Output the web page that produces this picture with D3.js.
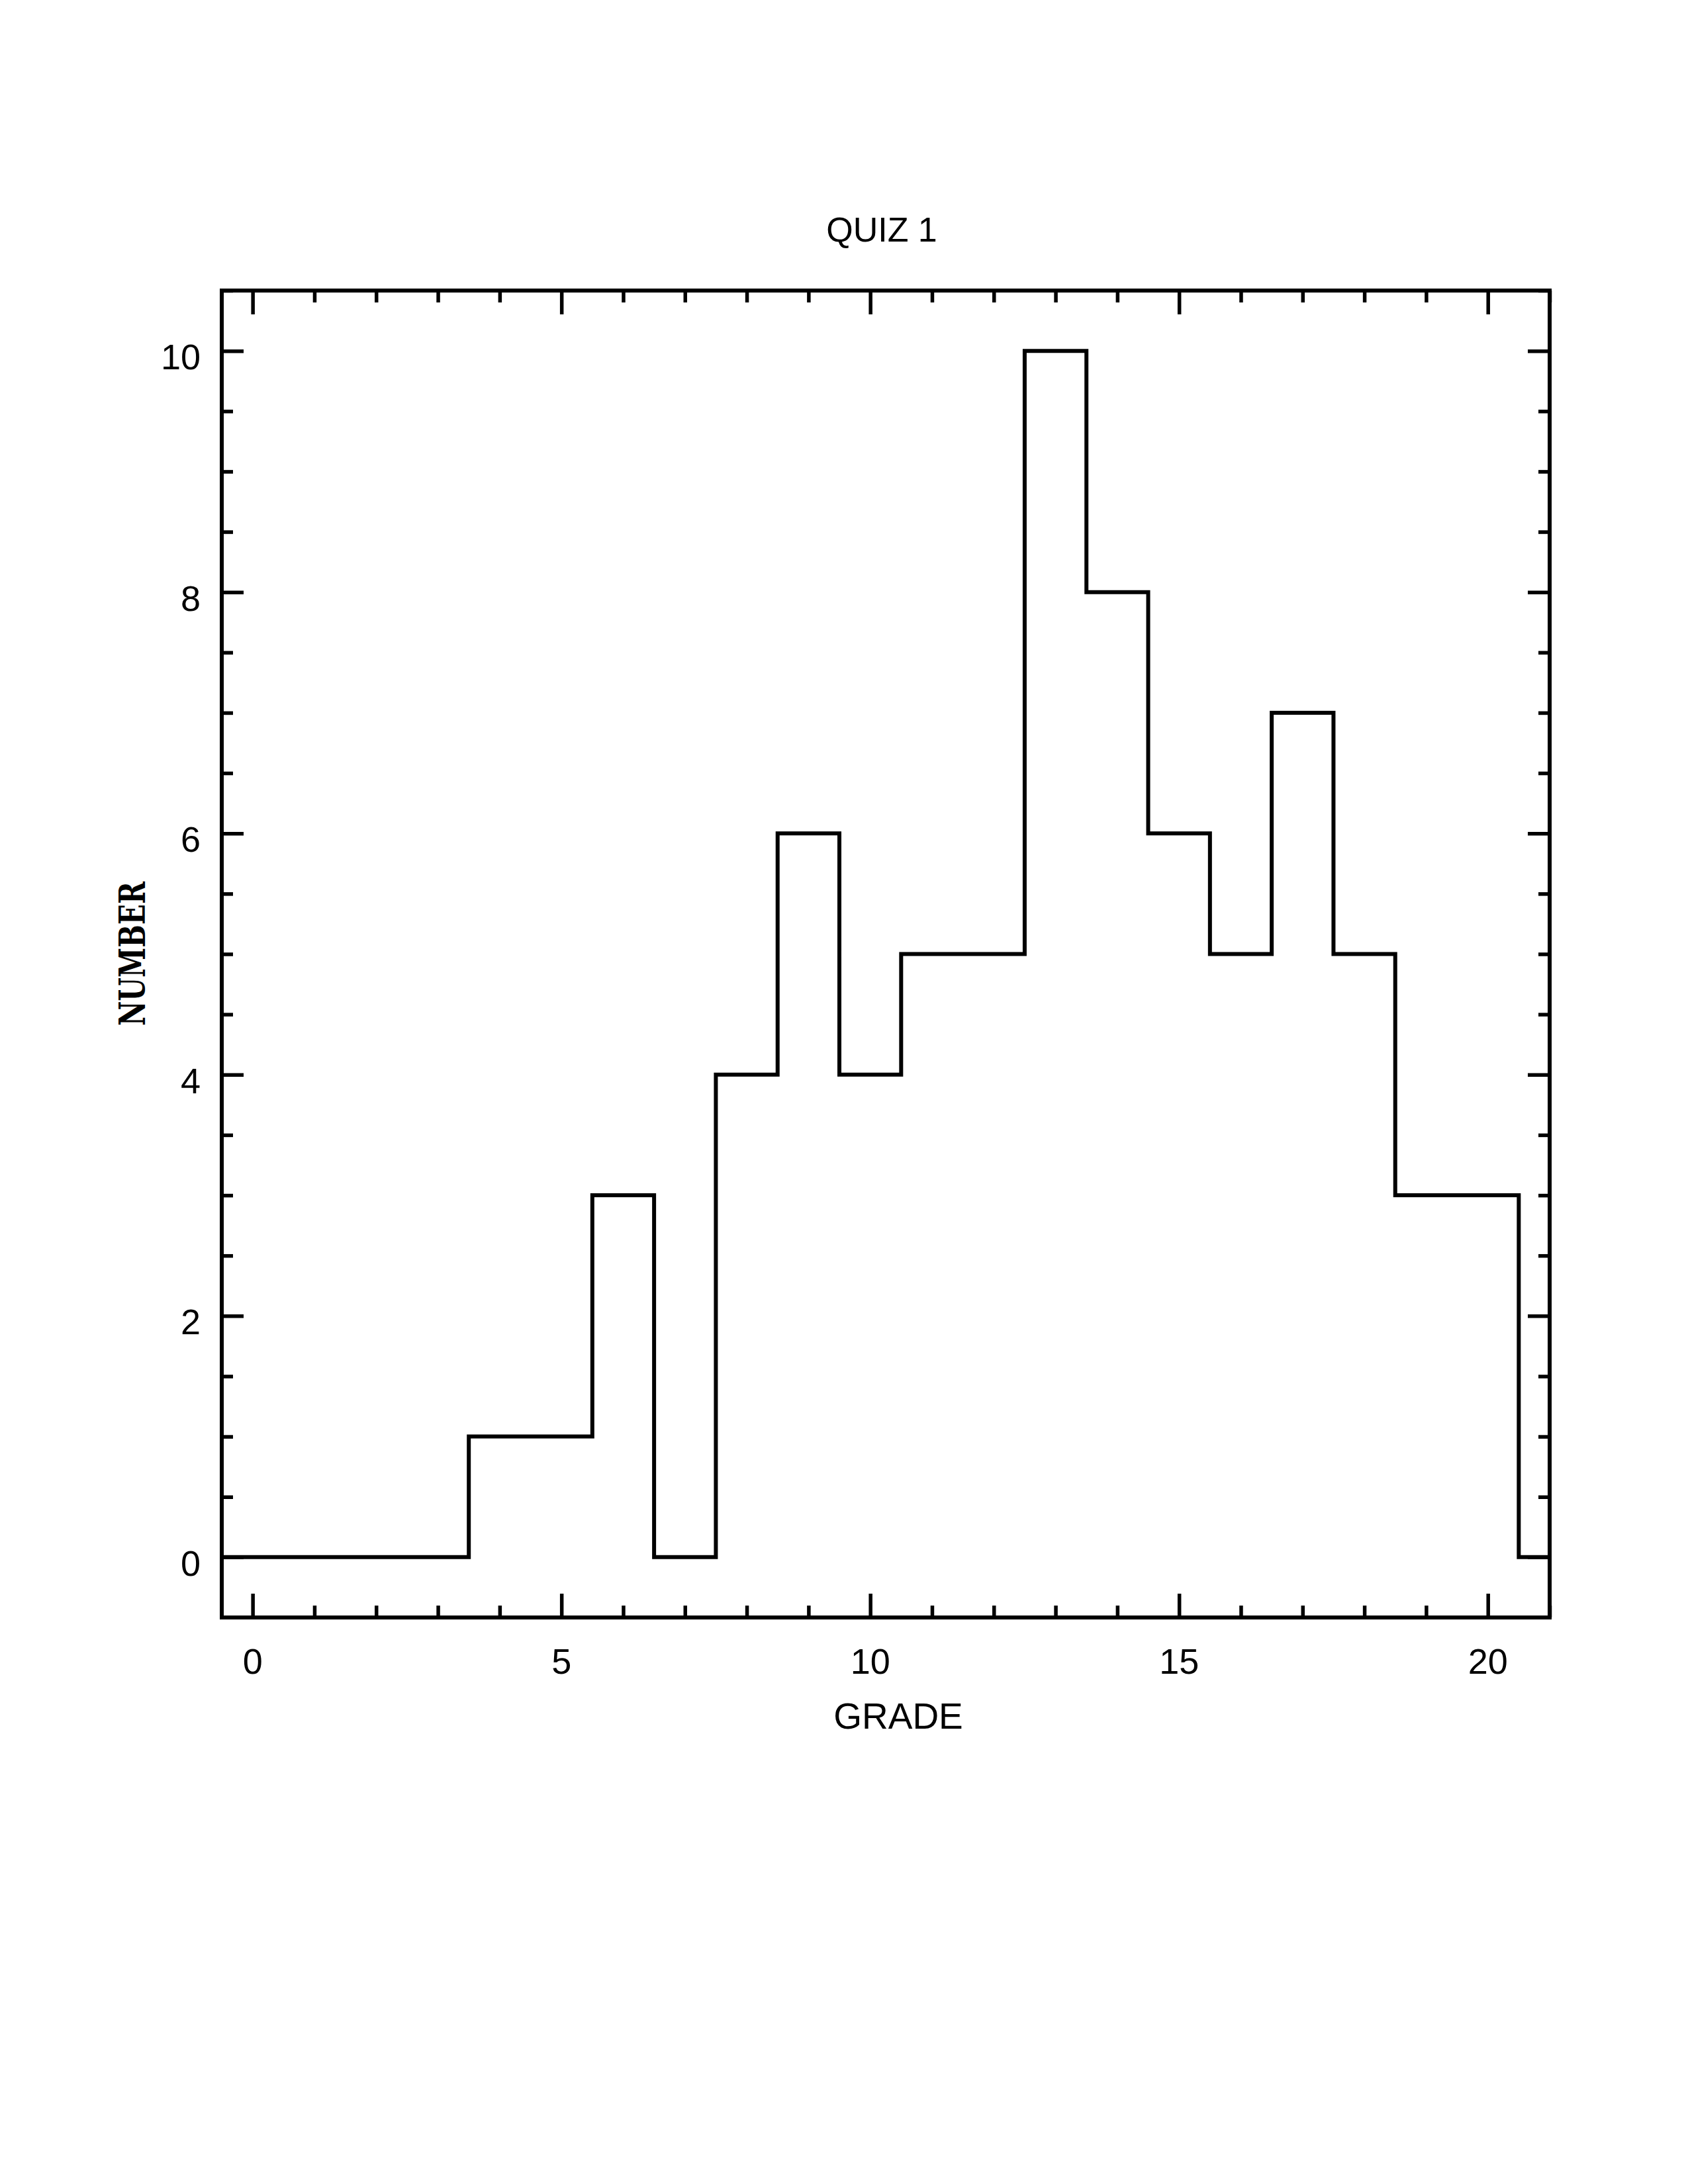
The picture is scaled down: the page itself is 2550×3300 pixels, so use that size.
<!DOCTYPE html>
<html>
<head>
<meta charset="utf-8">
<script src="https://cdn.jsdelivr.net/npm/d3@7"></script>
<style>
html,body{margin:0;padding:0;background:#fff;}
</style>
</head>
<body>
<script>
const grades = [0,1,2,3,4,5,6,7,8,9,10,11,12,13,14,15,16,17,18,19,20,21];
const counts = [0,0,0,0,1,1,3,0,4,6,4,5,5,10,8,6,5,7,5,3,3,0];
const xMajorTicks = [0,5,10,15,20];
const yMajorTicks = [0,2,4,6,8,10];
const titleText = "QUIZ 1";
const xLabel = "GRADE";
const yLabel = "NUMBER";

const W = 2550, H = 3300;
const svg = d3.select("body").append("svg").attr("width", W).attr("height", H)
  .style("background", "#fff");

const L = 335, R = 2341, T = 439, B = 2444;
const x = d3.scaleLinear().domain([-0.5, 21]).range([L, R]);
const y = d3.scaleLinear().domain([-0.5, 10.5]).range([B, T]);

const xMinor = d3.range(0, 22, 1).filter(v => !xMajorTicks.includes(v));
const yMinor = d3.range(0, 10.51, 0.5).filter(v => !yMajorTicks.includes(v));

const lw = 6;
function styleAxis(g) {
  g.select(".domain").remove();
  g.selectAll("line").attr("stroke", "#000").attr("stroke-width", lw - 0.5);
  g.selectAll("text").remove();
}
// bottom
svg.append("g").attr("transform", `translate(0,${B})`).call(d3.axisBottom(x).tickValues(xMajorTicks).tickSize(-36)).call(styleAxis);
svg.append("g").attr("transform", `translate(0,${B})`).call(d3.axisBottom(x).tickValues(xMinor).tickSize(-18)).call(styleAxis);
// top
svg.append("g").attr("transform", `translate(0,${T})`).call(d3.axisTop(x).tickValues(xMajorTicks).tickSize(-36)).call(styleAxis);
svg.append("g").attr("transform", `translate(0,${T})`).call(d3.axisTop(x).tickValues(xMinor).tickSize(-18)).call(styleAxis);
// left
svg.append("g").attr("transform", `translate(${L},0)`).call(d3.axisLeft(y).tickValues(yMajorTicks).tickSize(-33)).call(styleAxis);
svg.append("g").attr("transform", `translate(${L},0)`).call(d3.axisLeft(y).tickValues(yMinor).tickSize(-17)).call(styleAxis);
// right
svg.append("g").attr("transform", `translate(${R},0)`).call(d3.axisRight(y).tickValues(yMajorTicks).tickSize(-33)).call(styleAxis);
svg.append("g").attr("transform", `translate(${R},0)`).call(d3.axisRight(y).tickValues(yMinor).tickSize(-17)).call(styleAxis);

// frame
svg.append("rect").attr("x", L).attr("y", T).attr("width", R - L).attr("height", B - T)
  .attr("fill", "none").attr("stroke", "#000").attr("stroke-width", lw);

// histogram
svg.append("clipPath").attr("id", "clip").append("rect")
  .attr("x", L).attr("y", T).attr("width", R - L).attr("height", B - T);
const pts = grades.map((g, i) => [g - 0.5, counts[i]]);
pts.push([grades[grades.length - 1] + 0.5, counts[counts.length - 1]]);
const line = d3.line().x(d => x(d[0])).y(d => y(d[1])).curve(d3.curveStepAfter);
svg.append("path").attr("d", line(pts)).attr("clip-path", "url(#clip)")
  .attr("fill", "none").attr("stroke", "#000").attr("stroke-width", lw)
  .attr("stroke-linejoin", "miter").attr("stroke-linecap", "square");

const font = "'Liberation Sans', Arial, Helvetica, sans-serif";
// tick labels
svg.append("g").selectAll("text").data(xMajorTicks).join("text")
  .attr("x", d => x(d)).attr("y", 2529).attr("text-anchor", "middle")
  .attr("font-family", font).attr("font-size", 54).text(d => d);
svg.append("g").selectAll("text").data(yMajorTicks).join("text")
  .attr("x", 303).attr("y", d => y(d) + 28).attr("text-anchor", "end")
  .attr("font-family", font).attr("font-size", 54).text(d => d);

// titles
svg.append("text").attr("x", 1332).attr("y", 365).attr("text-anchor", "middle")
  .attr("font-family", font).attr("font-size", 52).text(titleText);
svg.append("text").attr("x", 1357).attr("y", 2612).attr("text-anchor", "middle")
  .attr("font-family", font).attr("font-size", 55).text(xLabel);
svg.append("text").attr("transform", "translate(219,1441) rotate(-90)")
  .attr("text-anchor", "middle").attr("font-family", "'DejaVu Serif', 'Liberation Serif', serif")
  .attr("font-weight", "bold").attr("font-size", 55)
  .attr("textLength", 218).attr("lengthAdjust", "spacingAndGlyphs").text(yLabel);
</script>
</body>
</html>
